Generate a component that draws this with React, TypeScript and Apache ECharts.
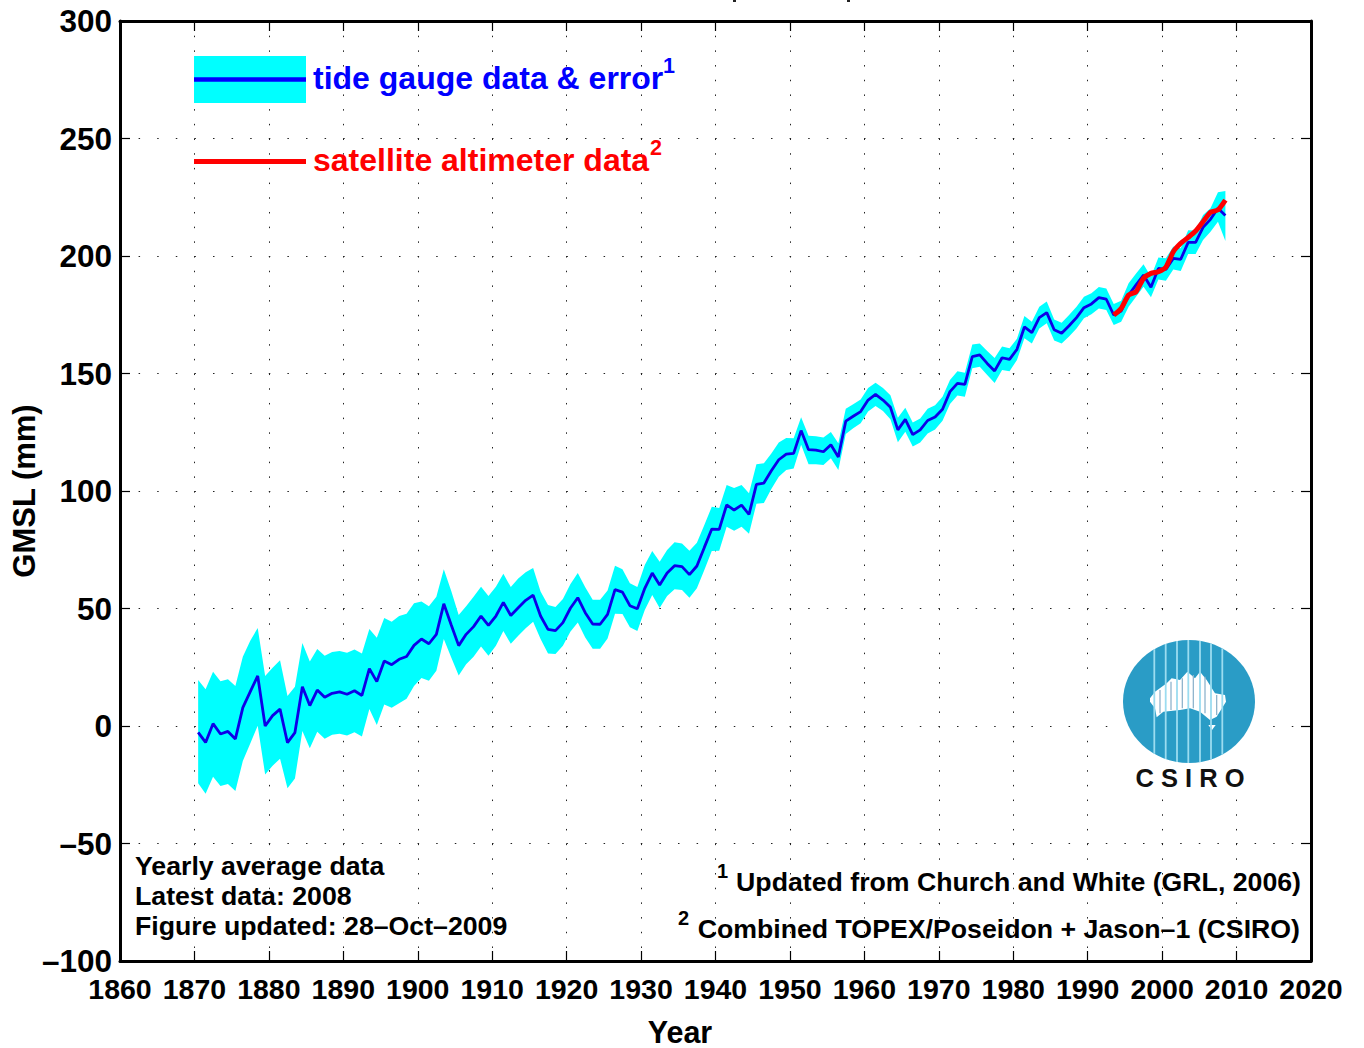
import React, { useEffect, useRef } from "react";
import * as echarts from "echarts";

const firstYear = 1870.5;
const gaugeMean = [
  -2.7, -7, 1, -3.4, -2.3, -5.5, 7.8, 14.6, 21.3, 0, 4.4, 7.2, -7.1, -2.8, 16.7, 8.7, 15.3, 12.2, 13.9, 14.5,
  13.5, 15, 13, 24.4, 18.9, 27.7, 26.1, 28.4, 29.6, 34.3, 37, 35, 39, 52, 43, 34.2, 39, 42.3, 46.8, 42.8,
  46.8, 52.6, 47, 50.3, 53.5, 55.7, 46.8, 41.1, 40.6, 44, 50.1, 54.6, 48.2, 43.4, 43.3, 47.5, 58, 57, 51.2, 49.9,
  58.6, 65.1, 60, 65.1, 68.2, 67.8, 64.4, 68.1, 76, 83.8, 83.7, 94.1, 91.9, 94, 90, 102.8, 103.4, 108.6, 113.3, 115.7,
  116, 125.7, 117.6, 117.4, 116.7, 119.7, 114.5, 129.7, 131.8, 133.8, 138.7, 141.1, 138.7, 135.6, 126, 130.5, 124, 126, 130, 131.5,
  134.8, 142.3, 145.8, 145.4, 157.2, 157.9, 154.3, 151.1, 156.7, 156, 160.3, 169.8, 167.4, 173.8, 175.9, 168.6, 167.1, 170.3, 173.8, 178,
  179.6, 182.3, 181.6, 174.9, 176.6, 183.4, 187.7, 191.9, 186.7, 194.7, 194.3, 199, 198.6, 205.8, 205.8, 212.2, 215.6, 220.3, 217.2,
];
const gaugeUpper = [
  19.6, 15.6, 23.1, 19, 19.9, 17, 29.5, 36.3, 41.7, 21.3, 24.8, 28, 12.8, 16.7, 35.3, 27.4, 32.8, 29.9, 31.5, 31.9,
  31.2, 32.6, 30.8, 41.3, 37.6, 46, 44.4, 46.8, 47.8, 52.2, 53, 51, 55, 66.7, 57.4, 47.2, 51, 55, 59.3, 55.3,
  59.3, 64.8, 59.1, 62.8, 65.4, 67.2, 57.2, 51.5, 50.6, 54, 60.3, 65.1, 59, 53.7, 53.7, 57.7, 68.2, 66.7, 60.7, 59.1,
  68.5, 74.5, 69.9, 74.9, 78.2, 77.7, 74.6, 78, 85.5, 93.3, 92.8, 102.6, 101.3, 102.6, 99, 111.4, 111.8, 116, 120.6, 122.6,
  122.4, 131.4, 123.5, 123.3, 122.8, 125.1, 120.3, 135, 136.9, 138.9, 143.8, 146.1, 143.8, 140.7, 131.2, 135.4, 129.2, 130.9, 135, 136.5,
  140.1, 147.2, 151, 150.3, 162.3, 162.8, 159.6, 156.6, 161.5, 160.7, 164.8, 174.5, 172, 178.4, 180.6, 173, 171.6, 174.9, 178.4, 182.7,
  184.1, 186.8, 186.2, 179.6, 181, 188.4, 192.6, 196.5, 191.2, 199.4, 199, 204, 203.3, 211, 210.8, 217.4, 220.3, 227.1, 227.7,
];
const gaugeLower = [
  -24.4, -28.8, -21.6, -25.5, -24.7, -27.7, -14.9, -7.4, 0.1, -20.6, -16.9, -13.9, -26.5, -22.3, -2.1, -9.5, -2.4, -5.4, -3.7, -3.3,
  -4, -2.7, -4.5, 7.2, 0.4, 9.2, 7.8, 9.7, 11.6, 17, 20.4, 19.3, 23.5, 37, 29.1, 21.5, 26.3, 29.5, 33.8, 29.9,
  34.2, 40.4, 35, 38.4, 41.6, 44.4, 37, 30.9, 30.6, 34.2, 40.1, 44, 37.7, 32.9, 32.9, 37.2, 47.8, 47.7, 42, 40.4,
  49.4, 55.7, 50.2, 55.3, 58.2, 57.9, 54.6, 58.6, 66.4, 74.5, 74.6, 84.8, 83.1, 84.8, 81.8, 94.6, 94.9, 100.9, 106.1, 108.9,
  109.6, 119.7, 111.4, 111.4, 111.1, 113.9, 108.9, 124.3, 126.7, 128.8, 133.8, 136.2, 134, 130.5, 120.7, 125.2, 118.9, 120.6, 124.5, 126.2,
  129.9, 137, 140.6, 140.1, 152.2, 152.9, 149.4, 146, 151.5, 151, 155.7, 165, 162.8, 169.2, 171.4, 164, 162.8, 165.7, 169.2, 173.5,
  175.2, 177.7, 177, 170.6, 172, 178.4, 182.7, 186.9, 182.4, 190, 189.5, 194.3, 193.6, 200.9, 200.9, 206.8, 210.3, 214.6, 206.4,
];
const satelliteFirstYear = 1993.5;
const satellite = [
  174.9, 177.7, 183.4, 184.8, 190.5, 192.6, 193.3, 195.2, 201.8, 205.4, 207.9, 210.6, 214.6, 218.6, 219.6, 223.8,
];
const noteLines = ["Yearly average data", "Latest data: 2008", "Figure updated: 28–Oct–2009"];
const noteBaselines = [875, 905, 935];
const xRange = [1860, 2020];
const yRange = [-100, 300];

const FONT = "'Liberation Sans', Arial, sans-serif";

const gaugeRows = gaugeMean.map((v, i) => [firstYear + i, v, gaugeLower[i], gaugeUpper[i]]);
const satelliteRows = satellite.map((v, i) => [satelliteFirstYear + i, v]);

const txt = (text: string, x: number, baseline: number, fontSize: number, fill = "#000", align = "left") => ({
  type: "text",
  z: 20,
  silent: true,
  style: {
    text,
    x,
    y: baseline - fontSize * 0.36,
    fontSize,
    fontWeight: "bold",
    fontFamily: FONT,
    fill,
    align,
    verticalAlign: "middle",
  },
});

const LOGO = { cx: 1189, cy: 701.5, rx: 66, ry: 61.5 };
const stripeXs = [1154.3, 1165.7, 1177, 1188.3, 1200, 1211, 1222.3];
const zx = (v: number) => 1100 + v / 3;
const zy = (v: number) => 630 + v / 3;
const ozPts = [
  [150, 205], [165, 185], [200, 160], [215, 145], [240, 150], [262, 125], [285, 145], [300, 125], [320, 150],
  [345, 190], [375, 195], [378, 215], [350, 260], [330, 270], [300, 245], [270, 235], [240, 240], [190, 245],
  [170, 262], [165, 235], [150, 215],
];
const tasPts = [[325, 285], [347, 285], [336, 300]];
const ozBars = [
  [180, 180, 250], [213, 155, 240], [247, 145, 235], [280, 135, 235], [315, 140, 250], [350, 195, 255],
];

const logoGraphics = () => {
  const out: any[] = [
    { type: "rect", z: 15, silent: true, shape: { x: 1108, y: 632, width: 162, height: 161 }, style: { fill: "#fff" } },
    { type: "ellipse", z: 16, silent: true, shape: { cx: LOGO.cx, cy: LOGO.cy, rx: LOGO.rx, ry: LOGO.ry }, style: { fill: "#2a9cc6" } },
    {
      type: "polygon", z: 17, silent: true,
      shape: { points: ozPts.map(([a, b]) => [zx(a), zy(b)]) },
      style: { fill: "#fff" },
    },
    {
      type: "polygon", z: 17, silent: true,
      shape: { points: tasPts.map(([a, b]) => [zx(a), zy(b)]) },
      style: { fill: "#fff" },
    },
  ];
  stripeXs.forEach((x) => {
    const h = LOGO.ry * Math.sqrt(1 - ((x - LOGO.cx) / LOGO.rx) ** 2);
    out.push({
      type: "line", z: 18, silent: true,
      shape: { x1: x, y1: LOGO.cy - h, x2: x, y2: LOGO.cy + h },
      style: { stroke: "#9bdcf0", lineWidth: 1.8 },
    });
  });
  ozBars.forEach(([a, b, c]) => {
    out.push({
      type: "line", z: 18, silent: true,
      shape: { x1: zx(a), y1: zy(b), x2: zx(a), y2: zy(c) },
      style: { stroke: "#8fb4cc", lineWidth: 1.3 },
    });
  });
  out.push({ ...txt("C S I R O", 1190, 787, 25.5, "#111", "center") });
  return out;
};

export default function App() {
  const ref = useRef<HTMLDivElement>(null);
  useEffect(() => {
    const chart = echarts.init(ref.current!, undefined, { renderer: "svg" });
    const axisLine = { show: true, onZero: false, lineStyle: { color: "#000", width: 3 } };
    const axisTick = { show: true, inside: true, length: 10, lineStyle: { color: "#000", width: 1.2 } };
    chart.setOption({
      animation: false,
      backgroundColor: "#fff",
      grid: { left: 120, top: 21, width: 1191, height: 940, containLabel: false, outerBoundsMode: "none" },
      xAxis: [
        {
          type: "value", position: "bottom", min: xRange[0], max: xRange[1], interval: 10,
          axisLine, axisTick,
          axisLabel: {
            margin: 13, fontSize: 28.5, fontWeight: "bold", fontFamily: FONT, color: "#000", hideOverlap: false,
            formatter: (v: number) => String(v),
          },
          splitLine: { show: true, lineStyle: { color: "#222", width: 1, type: [1.5, 13.19] } },
          name: "Year", nameLocation: "middle", nameGap: 55,
          nameTextStyle: { fontSize: 30.5, fontWeight: "bold", fontFamily: FONT, color: "#000", padding: [0, 71, 0, 0] },
        },
        {
          type: "value", position: "top", min: xRange[0], max: xRange[1], interval: 10,
          axisLine, axisTick, axisLabel: { show: false }, splitLine: { show: false },
        },
      ],
      yAxis: [
        {
          type: "value", position: "left", min: yRange[0], max: yRange[1], interval: 50,
          axisLine, axisTick,
          axisLabel: {
            margin: 8, fontSize: 31.5, fontWeight: "bold", fontFamily: FONT, color: "#000",
            formatter: (v: number) => String(v).replace("-", "–"),
          },
          splitLine: { show: true, lineStyle: { color: "#222", width: 1, type: [1.5, 17.1] } },
          name: "GMSL (mm)", nameLocation: "middle", nameGap: 80, nameRotate: 90, nameMoveOverlap: false,
          nameTextStyle: { fontSize: 31, fontWeight: "bold", fontFamily: FONT, color: "#000" },
        },
        {
          type: "value", position: "right", min: yRange[0], max: yRange[1], interval: 50,
          axisLine, axisTick, axisLabel: { show: false }, splitLine: { show: false },
        },
      ],
      series: [
        {
          type: "custom",
          name: "error",
          z: 2,
          silent: true,
          clip: false,
          data: gaugeRows,
          encode: { x: 0, y: 1 },
          renderItem: (params: any, api: any) => {
            if (params.dataIndex !== 0) return null;
            const up = gaugeRows.map((r) => api.coord([r[0], r[3]]));
            const lo = gaugeRows.map((r) => api.coord([r[0], r[2]])).reverse();
            return { type: "polygon", shape: { points: up.concat(lo) }, style: { fill: "#00ffff" } };
          },
        },
        {
          type: "line", name: "tide gauge data & error", z: 3, data: gaugeRows.map((r) => [r[0], r[1]]),
          showSymbol: false, symbol: "none", silent: true,
          lineStyle: { color: "#0d00e8", width: 2.8 },
        },
        {
          type: "line", name: "satellite altimeter data", z: 4, data: satelliteRows,
          showSymbol: false, symbol: "none", silent: true, smooth: 0.2,
          lineStyle: { color: "#ff0000", width: 5 },
        },
      ],
      graphic: [
        { type: "rect", z: 10, silent: true, shape: { x: 194, y: 56, width: 112, height: 47 }, style: { fill: "#00ffff" } },
        { type: "line", z: 11, silent: true, shape: { x1: 194, y1: 79.5, x2: 306, y2: 79.5 }, style: { stroke: "#0000ff", lineWidth: 4.5 } },
        { type: "line", z: 11, silent: true, shape: { x1: 194, y1: 161.5, x2: 306, y2: 161.5 }, style: { stroke: "#ff0000", lineWidth: 5 } },
        txt("tide gauge data & error", 313, 90, 32, "#0000ff"),
        txt("1", 663, 74, 21.5, "#0000ff"),
        txt("satellite altimeter data", 313, 172, 32, "#ff0000"),
        txt("2", 650, 156, 21.5, "#ff0000"),
        ...noteLines.map((t, i) => txt(t, 135, noteBaselines[i] + 1, 26.7)),
        txt("1", 717, 878, 20),
        txt("Updated from Church and White (GRL, 2006)", 1301, 892, 26.7, "#000", "right"),
        txt("2", 678, 925, 20),
        txt("Combined TOPEX/Poseidon + Jason–1 (CSIRO)", 1300, 939, 26.7, "#000", "right"),
        { type: "rect", z: 20, silent: true, shape: { x: 733, y: 0, width: 3, height: 2 }, style: { fill: "#222" } },
        { type: "rect", z: 20, silent: true, shape: { x: 847, y: 0, width: 3, height: 2 }, style: { fill: "#222" } },
        ...logoGraphics(),
      ],
    });
    return () => chart.dispose();
  }, []);
  return <div ref={ref} style={{ position: "fixed", left: 0, top: 0, width: 1364, height: 1048 }} />;
}
